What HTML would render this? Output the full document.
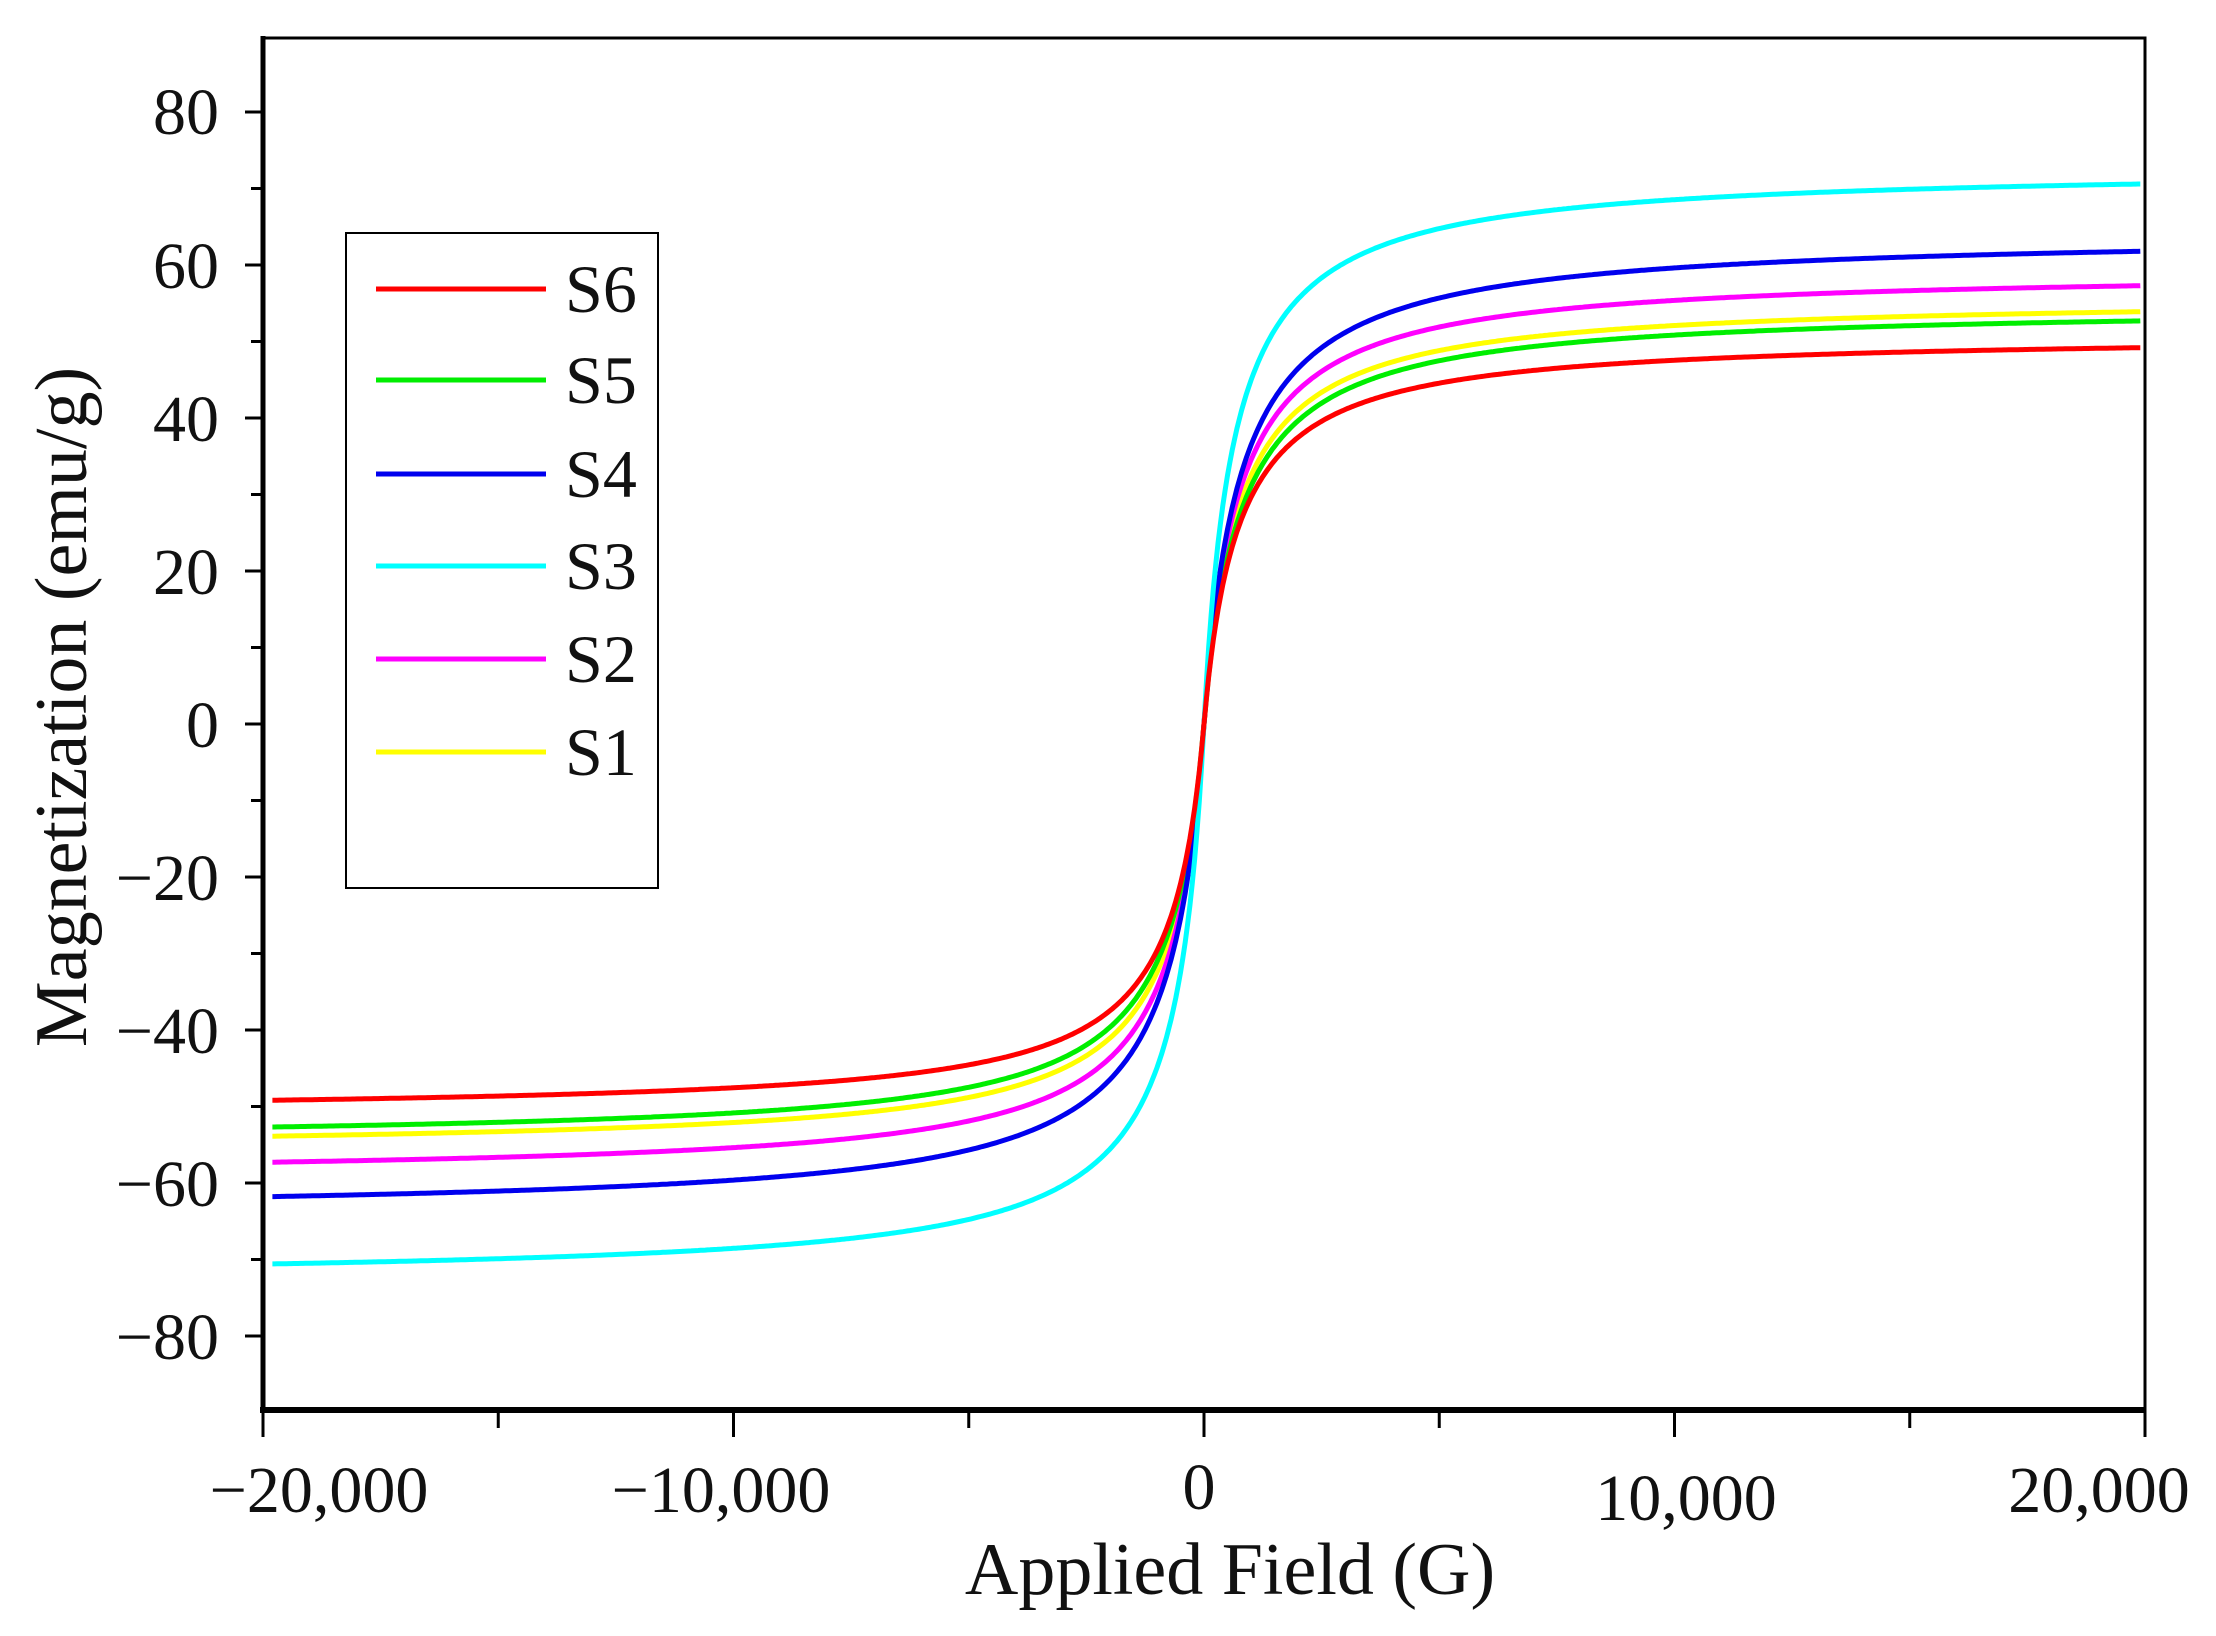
<!DOCTYPE html>
<html><head><meta charset="utf-8"><style>body{margin:0;background:#fff}svg{display:block}text{font-family:"Liberation Serif",serif;fill:#111}</style></head>
<body>
<svg id="s" width="2216" height="1636" viewBox="0 0 2216 1636" xmlns="http://www.w3.org/2000/svg">
<rect width="2216" height="1636" fill="#fff"/>
<g id="curves" fill="none" stroke-width="5"></g>
<rect x="263" y="38" width="1882" height="1372" fill="none" stroke="#000" stroke-width="3"/>
<line x1="263" y1="36" x2="263" y2="1412" stroke="#000" stroke-width="5"/>
<line x1="260" y1="1410" x2="2146" y2="1410" stroke="#000" stroke-width="6"/>
<g id="ticks" stroke="#000" stroke-width="3"></g>
<g font-size="66" text-anchor="end">
<text x="219" y="134">80</text><text x="219" y="288">60</text><text x="219" y="441">40</text><text x="219" y="594">20</text><text x="219" y="747">0</text><text x="219" y="900">−20</text><text x="219" y="1053">−40</text><text x="219" y="1206">−60</text><text x="219" y="1359">−80</text>
</g>
<g font-size="66" text-anchor="middle">
<text x="319" y="1512">−20,000</text><text x="721" y="1512">−10,000</text><text x="1199" y="1509">0</text><text x="1686" y="1520">10,000</text><text x="2099" y="1512">20,000</text>
</g>
<text x="1230" y="1594" font-size="74" text-anchor="middle">Applied Field (G)</text>
<text transform="translate(86,707) rotate(-90)" font-size="74" text-anchor="middle">Magnetization (emu/g)</text>
<rect x="346" y="233" width="312" height="655" fill="#fff" stroke="#000" stroke-width="2"/>
<g stroke-width="5">
<line x1="376" y1="289" x2="546" y2="289" stroke="#ff0000"/>
<line x1="376" y1="380" x2="546" y2="380" stroke="#00ee00"/>
<line x1="376" y1="474" x2="546" y2="474" stroke="#0000ee"/>
<line x1="376" y1="566" x2="546" y2="566" stroke="#00ffff"/>
<line x1="376" y1="659" x2="546" y2="659" stroke="#ff00ff"/>
<line x1="376" y1="752" x2="546" y2="752" stroke="#ffff00"/>
</g>
<g font-size="68">
<text x="565" y="312">S6</text><text x="565" y="403">S5</text><text x="565" y="497">S4</text><text x="565" y="589">S3</text><text x="565" y="682">S2</text><text x="565" y="775">S1</text>
</g>
</svg>
<script>
var NS="http://www.w3.org/2000/svg";
function X(h){return 1204+h*(2145-263)/40000;}
function Y(m){return 724-m*(612/80);}
var t=document.getElementById("ticks");
function ln(a,b,c,d){var l=document.createElementNS(NS,"line");l.setAttribute("x1",a);l.setAttribute("y1",b);l.setAttribute("x2",c);l.setAttribute("y2",d);t.appendChild(l);}
for(var v=-80;v<=80;v+=10){var y=Y(v);ln(263,y,v%20==0?245:251,y);}
for(var h=-20000;h<=20000;h+=5000){var x=X(h);ln(x,1410,x,h%10000==0?1437:1428);}
var series=[["#ffff00",53.9,720],["#ff00ff",57.3,720],["#00ee00",52.7,760],["#0000ee",61.8,760],["#00ffff",70.6,620],["#ff0000",49.2,720]];
var g=document.getElementById("curves");
series.forEach(function(s){var Ms=s[1]*(20000+s[2])/20000,h0=s[2],d="";
for(var h=-19800;h<=19900;h+=50){var m=Ms*h/(Math.abs(h)+h0);d+=(d?"L":"M")+X(h).toFixed(1)+" "+Y(m).toFixed(1);}
var p=document.createElementNS(NS,"path");p.setAttribute("d",d);p.setAttribute("stroke",s[0]);g.appendChild(p);});
</script>
</body></html>
